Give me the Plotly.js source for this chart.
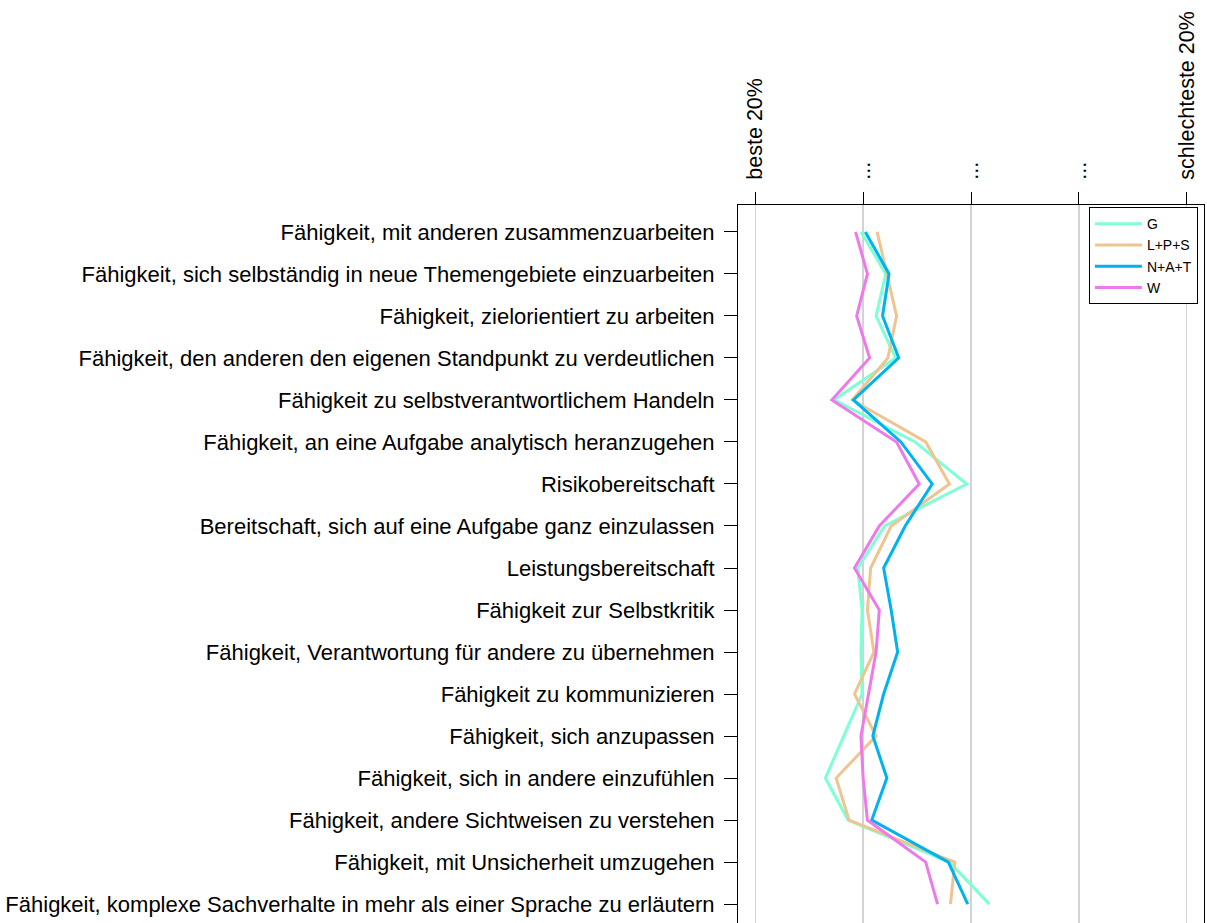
<!DOCTYPE html>
<html>
<head>
<meta charset="utf-8">
<script src="https://cdn.plot.ly/plotly-3.0.1.min.js"></script>
<style>
html, body { margin: 0; padding: 0; overflow: hidden; background: #fff; }
#chart { width: 1207px; height: 931px; }
</style>
</head>
<body>
<div id="chart"></div>
<script>
const categories = [
  "Fähigkeit, mit anderen zusammenzuarbeiten",
  "Fähigkeit, sich selbständig in neue Themengebiete einzuarbeiten",
  "Fähigkeit, zielorientiert zu arbeiten",
  "Fähigkeit, den anderen den eigenen Standpunkt zu verdeutlichen",
  "Fähigkeit zu selbstverantwortlichem Handeln",
  "Fähigkeit, an eine Aufgabe analytisch heranzugehen",
  "Risikobereitschaft",
  "Bereitschaft, sich auf eine Aufgabe ganz einzulassen",
  "Leistungsbereitschaft",
  "Fähigkeit zur Selbstkritik",
  "Fähigkeit, Verantwortung für andere zu übernehmen",
  "Fähigkeit zu kommunizieren",
  "Fähigkeit, sich anzupassen",
  "Fähigkeit, sich in andere einzufühlen",
  "Fähigkeit, andere Sichtweisen zu verstehen",
  "Fähigkeit, mit Unsicherheit umzugehen",
  "Fähigkeit, komplexe Sachverhalte in mehr als einer Sprache zu erläutern"
];

const G      = [1.98, 2.21, 2.12, 2.30, 1.73, 2.48, 2.96, 2.20, 1.95, 1.99, 1.98, 1.99, 1.82, 1.65, 1.86, 2.80, 3.17];
const LPS    = [2.13, 2.22, 2.31, 2.23, 1.90, 2.58, 2.80, 2.26, 2.07, 2.04, 2.10, 1.92, 2.12, 1.75, 1.87, 2.85, 2.81];
const NAT    = [2.02, 2.24, 2.18, 2.33, 1.91, 2.35, 2.64, 2.39, 2.19, 2.26, 2.32, 2.19, 2.09, 2.22, 2.08, 2.79, 2.97];
const W      = [1.93, 2.04, 1.94, 2.06, 1.71, 2.31, 2.52, 2.15, 1.92, 2.15, 2.12, 2.05, 1.98, 2.00, 2.04, 2.58, 2.69];

const seriesNames  = ["G", "L+P+S", "N+A+T", "W"];
const seriesColors = ["#7FFFD4", "#EEC591", "#00B2EE", "#EE7AE9"];
const seriesValues = [G, LPS, NAT, W];

const tickValues = [1, 2, 3, 4, 5];
const tickLabels = ["beste 20%", "...", "...", "...", "schlechteste 20%"];

const traces = seriesValues.map((vals, k) => ({
  type: "scatter",
  mode: "lines",
  name: seriesNames[k],
  x: vals,
  y: categories,
  line: { color: seriesColors[k], width: 3 },
  hoverinfo: "x+name"
}));

const layout = {
  width: 1207,
  height: 931,
  margin: { l: 738, r: 3, t: 205, b: 0, pad: 0 },
  paper_bgcolor: "#ffffff",
  plot_bgcolor: "#ffffff",
  font: { family: "Liberation Sans, Arial, sans-serif", color: "#000000", size: 21 },
  showlegend: true,
  legend: {
    x: 0.753, y: 0.997, xanchor: "left", yanchor: "top",
    bgcolor: "#ffffff", bordercolor: "#000000", borderwidth: 1,
    font: { size: 14, color: "#000000" },
    itemwidth: 47,
    tracegroupgap: 0
  },
  xaxis: {
    side: "top",
    range: [0.84, 5.16],
    tickmode: "array",
    tickvals: tickValues,
    ticktext: tickLabels,
    tickangle: -90,
    ticks: "outside",
    ticklen: 12,
    tickwidth: 1,
    tickcolor: "#000000",
    tickfont: { size: 21.5, color: "#000000" },
    ticklabelstandoff: 8,
    showgrid: true,
    gridcolor: "#D3D3D3",
    gridwidth: 1.5,
    zeroline: false,
    showline: true,
    linecolor: "#000000",
    linewidth: 1,
    mirror: false,
    fixedrange: true
  },
  yaxis: {
    type: "category",
    categoryorder: "array",
    categoryarray: categories,
    range: [16.64, -0.64],
    ticks: "outside",
    ticklen: 13,
    tickwidth: 1,
    tickcolor: "#000000",
    tickfont: { size: 22, color: "#000000" },
    ticklabelstandoff: 5,
    showgrid: false,
    zeroline: false,
    showline: true,
    linecolor: "#000000",
    linewidth: 1,
    mirror: true,
    fixedrange: true
  }
};

Plotly.newPlot("chart", traces, layout, { displayModeBar: false, staticPlot: true });
</script>
</body>
</html>
